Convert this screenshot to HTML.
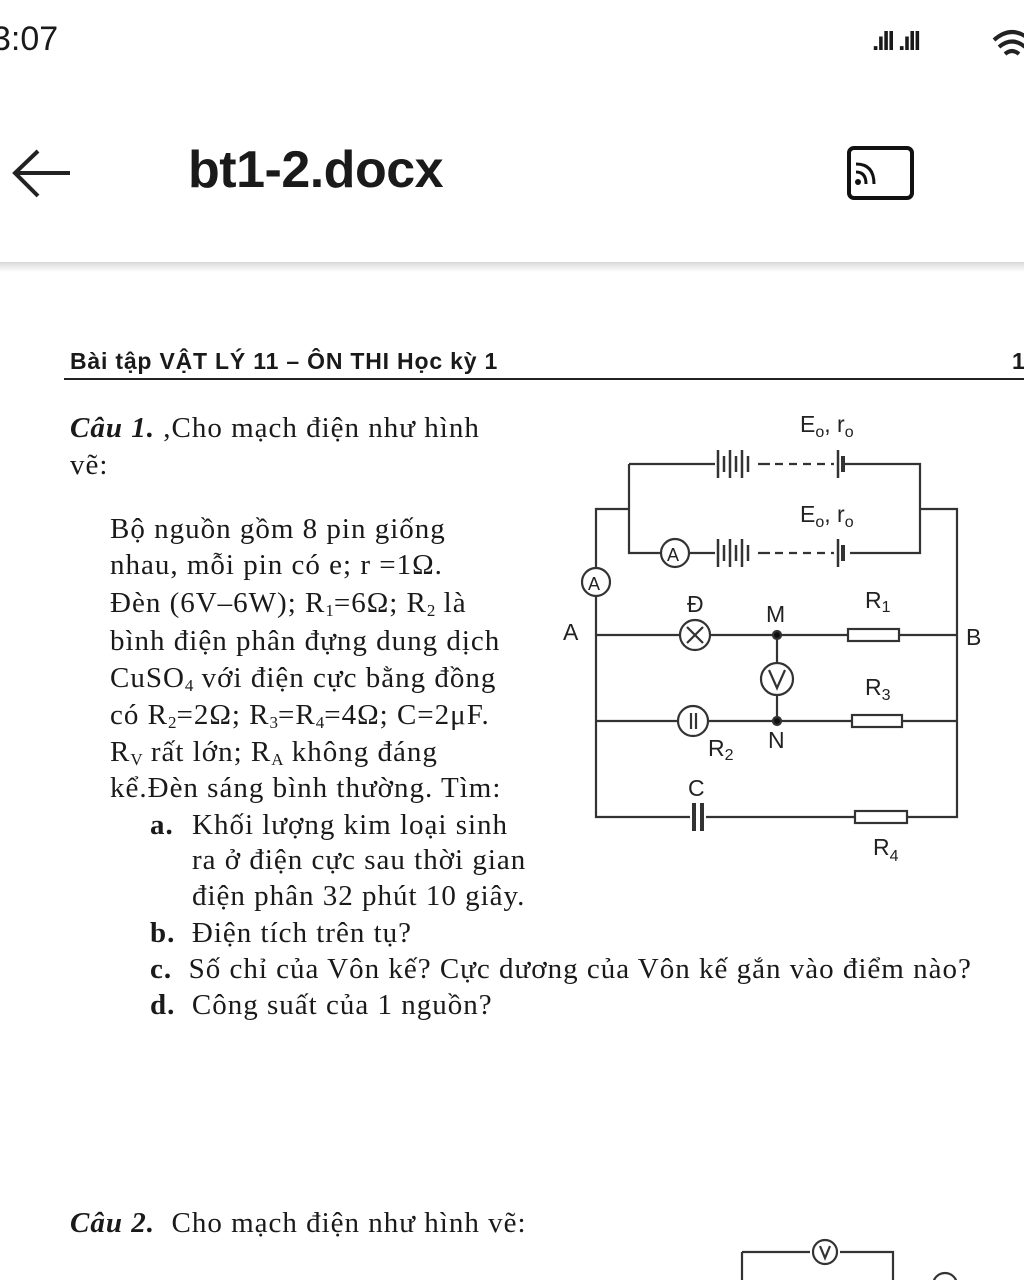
<!DOCTYPE html>
<html><head><meta charset="utf-8"><style>
body{margin:0;width:1024px;height:1280px;background:#fff;position:relative;overflow:hidden;font-family:"Liberation Serif",serif;color:#1a1a1a}
.a{position:absolute;white-space:nowrap}
.s{font-family:"Liberation Sans",sans-serif}
.t{font-size:29px;line-height:36px;letter-spacing:1px}
sub{font-size:17px;line-height:0;vertical-align:-4px;letter-spacing:0}
</style></head><body>
<div class="a s" style="left:-8px;top:20px;font-size:34px">3:07</div>
<div class="a s" style="left:872px;top:26px;font-size:26px;font-weight:bold;letter-spacing:-2px">.ıll .ıll</div>
<svg class="a" style="left:990px;top:22px" width="34" height="40"><path d="M4 18 Q22 2 40 18 M9 25 Q22 14 35 25 M15 32 Q22 26 29 32" stroke="#222" stroke-width="4" fill="none"/></svg>
<svg class="a" style="left:10px;top:145px" width="64" height="60"><path d="M60 28 H6 M28 6 L5 28 L28 51" stroke="#222" stroke-width="4" fill="none"/></svg>
<div class="a s" style="left:188px;top:140px;font-size:52px;font-weight:bold;letter-spacing:-0.5px">bt1-2.docx</div>
<svg class="a" style="left:846px;top:144px" width="70" height="60"><rect x="3" y="4" width="63" height="50" rx="5" stroke="#111" stroke-width="4" fill="none"/><path d="M10 20 Q28 20 28 40 M10 28 Q20 28 20 40" stroke="#111" stroke-width="3" fill="none"/><circle cx="12" cy="38" r="3" fill="#111"/></svg>
<div class="a" style="left:0;top:262px;width:1024px;height:10px;background:linear-gradient(#d8d8d8,#fff)"></div>
<div class="a s" style="left:70px;top:348px;font-size:23px;font-weight:bold;letter-spacing:0.8px">Bài tập VẬT LÝ 11 – ÔN THI Học kỳ 1</div>
<div class="a s" style="left:1012px;top:348px;font-size:23px;font-weight:bold">1</div>
<div class="a" style="left:64px;top:378px;width:960px;height:2px;background:#222"></div>
<div class="a t" style="left:70px;top:410px"><b><i>Câu 1.</i></b> ,Cho mạch điện như hình</div>
<div class="a t" style="left:70px;top:447px">vẽ:</div>
<div class="a t" style="left:110px;top:511px">Bộ nguồn gồm 8 pin giống</div>
<div class="a t" style="left:110px;top:547px">nhau, mỗi pin có e; r =1Ω.</div>
<div class="a t" style="left:110px;top:585px">Đèn (6V–6W); R<sub>1</sub>=6Ω; R<sub>2</sub> là</div>
<div class="a t" style="left:110px;top:623px">bình điện phân đựng dung dịch</div>
<div class="a t" style="left:110px;top:660px">CuSO<sub>4</sub> với điện cực bằng đồng</div>
<div class="a t" style="left:110px;top:697px">có R<sub>2</sub>=2Ω; R<sub>3</sub>=R<sub>4</sub>=4Ω; C=2μF.</div>
<div class="a t" style="left:110px;top:734px">R<sub>V</sub> rất lớn; R<sub>A</sub> không đáng</div>
<div class="a t" style="left:110px;top:770px">kể.Đèn sáng bình thường. Tìm:</div>
<div class="a t" style="left:150px;top:807px"><b>a.</b></div>
<div class="a t" style="left:192px;top:807px">Khối lượng kim loại sinh</div>
<div class="a t" style="left:192px;top:842px">ra ở điện cực sau thời gian</div>
<div class="a t" style="left:192px;top:878px">điện phân 32 phút 10 giây.</div>
<div class="a t" style="left:150px;top:915px"><b>b.</b>&nbsp; Điện tích trên tụ?</div>
<div class="a t" style="left:150px;top:951px"><b>c.</b>&nbsp; Số chỉ của Vôn kế? Cực dương của Vôn kế gắn vào điểm nào?</div>
<div class="a t" style="left:150px;top:987px"><b>d.</b>&nbsp; Công suất của 1 nguồn?</div>
<div class="a t" style="left:70px;top:1205px"><b><i>Câu 2.</i></b>&nbsp; Cho mạch điện như hình vẽ:</div>
<svg class="a" style="left:0;top:0" width="1024" height="1280" font-family="Liberation Sans, sans-serif" fill="none" stroke="#333" stroke-width="2.2">
<path d="M629 464 H715 M758 464 H770 M845 464 H920 V553 H850 M770 553 H758 M715 553 H690 M660 553 H629 V464"/>
<path d="M775 464 H834 M775 553 H834" stroke-dasharray="8 6"/>
<g stroke-width="2.5"><path d="M718 450 V478 M724 456 V472 M730 450 V478 M736 456 V472 M742 450 V478 M748 456 V472 M718 539 V567 M724 545 V561 M730 539 V567 M736 545 V561 M742 539 V567 M748 545 V561 M838 450 V478 M838 539 V567"/><path d="M843 456 V472 M843 545 V561" stroke-width="4"/></g>
<circle cx="675" cy="553" r="14"/>
<path d="M629 509 H596 V568 M596 596 V817 H690 M706 817 H855 M907 817 H957 V509 H920"/>
<circle cx="596" cy="582" r="14"/>
<path d="M596 635 H680 M710 635 H848 M899 635 H957 M596 721 H678 M708 721 H852 M902 721 H957 M777 635 V663 M777 695 V721"/>
<circle cx="695" cy="635" r="15"/><path d="M687 627 L703 643 M703 627 L687 643"/>
<circle cx="693" cy="721" r="15"/><path d="M691 713 V729 M696 713 V729"/>
<circle cx="777" cy="679" r="16"/><path d="M769 670 L777 688 L785 670"/>
<rect x="848" y="629" width="51" height="12"/><rect x="852" y="715" width="50" height="12"/><rect x="855" y="811" width="52" height="12"/>
<path d="M694 803 V831 M702 803 V831" stroke-width="4"/>
<circle cx="777" cy="635" r="4" fill="#111"/><circle cx="777" cy="721" r="4" fill="#111"/>
<g fill="#222" stroke="none" font-size="23">
<text x="800" y="432">E<tspan font-size="16" dy="5">o</tspan><tspan dy="-5">, r</tspan><tspan font-size="16" dy="5">o</tspan></text>
<text x="800" y="522">E<tspan font-size="16" dy="5">o</tspan><tspan dy="-5">, r</tspan><tspan font-size="16" dy="5">o</tspan></text>
<text x="667" y="561" font-size="18">A</text><text x="588" y="590" font-size="18">A</text>
<text x="563" y="640">A</text><text x="966" y="645">B</text>
<text x="687" y="612">Đ</text><text x="766" y="622">M</text><text x="865" y="608">R<tspan font-size="16" dy="4">1</tspan></text>
<text x="865" y="695">R<tspan font-size="16" dy="5">3</tspan></text>
<text x="708" y="756">R<tspan font-size="16" dy="4">2</tspan></text><text x="768" y="748">N</text>
<text x="688" y="796">C</text><text x="873" y="855">R<tspan font-size="16" dy="6">4</tspan></text>
</g>
<path d="M742 1252 H810 M840 1252 H893 V1280 M742 1252 V1280"/><circle cx="825" cy="1252" r="12"/><path d="M820 1246 L825 1258 L830 1246"/>
<circle cx="945" cy="1285" r="12"/>
</svg>
</body></html>
